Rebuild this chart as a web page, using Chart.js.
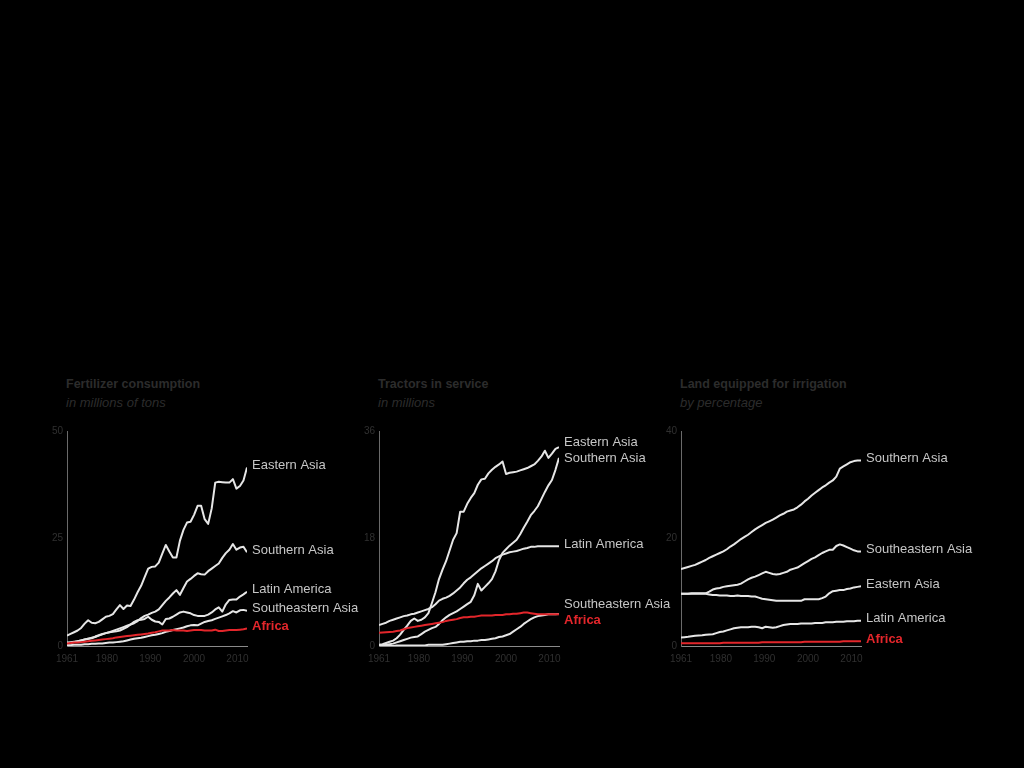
<!DOCTYPE html>
<html>
<head>
<meta charset="utf-8">
<title>Agricultural inputs by region</title>
<script src="https://cdn.jsdelivr.net/npm/chart.js@4.4.1/dist/chart.umd.min.js"></script>
<style>
  html, body { margin: 0; padding: 0; background: #000; }
  body { width: 1024px; height: 768px; position: relative; overflow: hidden; font-family: 'Liberation Sans', Arial, Helvetica, sans-serif; }
  .ttl { position: absolute; color: #2c2c2c; font-size: 13px; line-height: 15px; white-space: nowrap; }
  .ttl b { display: block; font-weight: bold; font-size: 12.5px; }
  .ttl i { display: block; margin-top: 3px; font-style: italic; }
  canvas { position: absolute; }
</style>
</head>
<body>
<div class="ttl" style="left:66px; top:377px;"><b>Fertilizer consumption</b><i>in millions of tons</i></div>
<div class="ttl" style="left:378px; top:377px;"><b>Tractors in service</b><i>in millions</i></div>
<div class="ttl" style="left:680px; top:377px;"><b>Land equipped for irrigation</b><i>by percentage</i></div>

<canvas id="fertChart" width="340" height="250" style="left:30px; top:420px;"></canvas>
<canvas id="tractorChart" width="340" height="250" style="left:342px; top:420px;"></canvas>
<canvas id="irrigChart" width="340" height="250" style="left:644px; top:420px;"></canvas>

<script>
// years on the x axis
const years = [1961, 1962, 1963, 1964, 1965, 1966, 1967, 1968, 1969, 1970,
    1971, 1972, 1973, 1974, 1975, 1976, 1977, 1978, 1979, 1980,
    1981, 1982, 1983, 1984, 1985, 1986, 1987, 1988, 1989, 1990,
    1991, 1992, 1993, 1994, 1995, 1996, 1997, 1998, 1999, 2000,
    2001, 2002, 2003, 2004, 2005, 2006, 2007, 2008, 2009, 2010,
    2011, 2012];

// x tick labels and where they sit along the axis
const xTickLabels = ['1961', '1980', '1990', '2000', '2010'];
const xTickAt = [1961, 1972.3, 1984.6, 1997, 2009.3];

const regions = ['Africa', 'Eastern Asia', 'Southern Asia', 'Latin America', 'Southeastern Asia'];

// 1. Fertilizer consumption, millions of tons
const fertAfrica = [0.6, 0.7, 0.8, 0.8, 0.9, 1.0, 1.1, 1.2, 1.3, 1.4,
    1.5, 1.6, 1.7, 1.8, 2.0, 2.1, 2.2, 2.3, 2.4, 2.5,
    2.6, 2.7, 2.8, 2.9, 3.1, 3.2, 3.4, 3.6, 3.6, 3.6,
    3.7, 3.6, 3.6, 3.6, 3.5, 3.6, 3.7, 3.7, 3.7, 3.6,
    3.6, 3.6, 3.8, 3.5, 3.5, 3.6, 3.7, 3.7, 3.7, 3.8,
    3.9, 4.1];
const fertEastern = [2.4, 2.8, 3.2, 3.6, 4.2, 5.2, 6.0, 5.4, 5.3, 5.6,
    6.2, 6.8, 7.0, 7.4, 8.5, 9.5, 8.6, 9.4, 9.3, 10.8,
    12.5, 14.0, 16.0, 18.0, 18.4, 18.5, 19.4, 21.5, 23.5, 22.0,
    20.6, 20.6, 24.5, 27.0, 28.7, 28.9, 30.5, 32.6, 32.6, 29.5,
    28.4, 32.0, 38.0, 38.2, 38.1, 38.0, 38.0, 38.8, 36.6, 37.2,
    38.5, 41.5];
const fertSouthern = [0.5, 0.7, 0.9, 1.1, 1.3, 1.5, 1.7, 1.8, 2.2, 2.5,
    2.8, 3.0, 3.2, 3.5, 3.8, 4.1, 4.4, 4.7, 5.0, 5.3,
    5.8, 6.5, 7.0, 7.3, 7.7, 8.0, 8.5, 9.5, 10.5, 11.3,
    12.2, 13.0, 11.9, 13.5, 15.0, 15.6, 16.3, 16.9, 16.7, 16.6,
    17.4, 18.0, 18.6, 19.2, 20.5, 21.6, 22.4, 23.7, 22.4, 22.9,
    23.1, 21.8];
const fertLatin = [0.8, 0.9, 1.0, 1.1, 1.3, 1.5, 1.7, 1.9, 2.1, 2.4,
    2.7, 3.0, 3.2, 3.3, 3.4, 3.6, 4.0, 4.4, 5.0, 5.6,
    6.0, 6.1, 6.3, 6.8, 6.1, 5.7, 5.6, 5.0, 6.3, 6.4,
    6.8, 7.3, 7.8, 8.0, 7.8, 7.6, 7.2, 7.0, 7.0, 7.0,
    7.3, 7.8, 8.5, 9.0, 8.0, 9.7, 10.7, 10.8, 10.8, 11.5,
    12.0, 12.6];
const fertSoutheastern = [0.2, 0.2, 0.3, 0.3, 0.3, 0.4, 0.4, 0.5, 0.5, 0.6,
    0.6, 0.7, 0.8, 0.8, 0.9, 1.0, 1.1, 1.3, 1.5, 1.7,
    1.8, 1.9, 2.1, 2.3, 2.5, 2.6, 2.8, 3.0, 3.3, 3.5,
    3.7, 3.9, 4.1, 4.3, 4.6, 4.8, 4.9, 4.8, 5.2, 5.6,
    5.8, 6.0, 6.3, 6.6, 6.9, 7.2, 7.6, 8.1, 7.8, 8.3,
    8.4, 8.2];

// 2. Tractors in service, millions
const tracAfrica = [2.2, 2.25, 2.3, 2.35, 2.4, 2.5, 2.6, 2.8, 3.0, 3.1,
    3.2, 3.3, 3.4, 3.5, 3.6, 3.7, 3.8, 3.9, 4.0, 4.2,
    4.3, 4.4, 4.5, 4.7, 4.8, 4.8, 4.9, 4.9, 5.0, 5.1,
    5.1, 5.1, 5.1, 5.2, 5.2, 5.2, 5.3, 5.3, 5.4, 5.4,
    5.5, 5.6, 5.6, 5.5, 5.4, 5.3, 5.3, 5.3, 5.3, 5.3,
    5.3, 5.3];
const tracEastern = [0.2, 0.3, 0.5, 0.7, 0.9, 1.3, 1.9, 2.7, 3.4, 4.2,
    4.6, 4.2, 4.4, 4.8, 5.5, 7.2, 9.0, 11.2, 12.8, 14.2,
    16.0, 17.8, 18.9, 22.5, 22.5, 23.8, 24.8, 25.6, 27.0, 27.9,
    28.0, 28.9, 29.5, 30.0, 30.4, 30.9, 28.8, 29.0, 29.1, 29.2,
    29.4, 29.6, 29.8, 30.1, 30.4, 31.0, 31.7, 32.7, 31.5, 32.2,
    33.0, 33.3];
const tracSouthern = [0.0, 0.1, 0.2, 0.3, 0.4, 0.6, 0.8, 1.0, 1.2, 1.4,
    1.5, 1.6, 2.0, 2.4, 2.7, 3.0, 3.2, 3.7, 4.3, 4.8,
    5.2, 5.5, 5.8, 6.2, 6.6, 7.0, 7.4, 8.5, 10.4, 9.3,
    9.9, 10.5, 11.2, 12.5, 14.4, 15.6, 16.2, 16.8, 17.3, 17.8,
    18.7, 19.8, 20.8, 21.9, 22.6, 23.4, 24.6, 25.8, 26.9, 27.8,
    29.5, 31.5];
const tracLatin = [3.5, 3.7, 3.9, 4.2, 4.4, 4.6, 4.8, 5.0, 5.1, 5.3,
    5.4, 5.6, 5.8, 6.0, 6.2, 6.5, 7.0, 7.6, 7.9, 8.1,
    8.4, 8.8, 9.3, 9.8, 10.5, 11.1, 11.5, 12.0, 12.5, 13.0,
    13.4, 13.8, 14.2, 14.7, 15.0, 15.3, 15.5, 15.7, 15.8, 15.9,
    16.1, 16.3, 16.4, 16.6, 16.6, 16.7, 16.7, 16.7, 16.7, 16.7,
    16.7, 16.7];
const tracSoutheastern = [0.0, 0.0, 0.0, 0.0, 0.0, 0.1, 0.1, 0.1, 0.1, 0.1,
    0.1, 0.1, 0.1, 0.1, 0.2, 0.2, 0.2, 0.2, 0.2, 0.3,
    0.4, 0.5, 0.6, 0.7, 0.7, 0.8, 0.8, 0.9, 0.9, 1.0,
    1.0, 1.1, 1.2, 1.3, 1.5, 1.6, 1.8, 2.0, 2.4, 2.8,
    3.2, 3.7, 4.1, 4.5, 4.8, 5.0, 5.1, 5.2, 5.3, 5.3,
    5.3, 5.35];

// 3. Land equipped for irrigation, percent
const irrAfrica = [0.5, 0.5, 0.5, 0.5, 0.5, 0.5, 0.5, 0.5, 0.5, 0.5,
    0.5, 0.5, 0.6, 0.6, 0.6, 0.6, 0.6, 0.6, 0.6, 0.6,
    0.6, 0.6, 0.6, 0.7, 0.7, 0.7, 0.7, 0.7, 0.7, 0.7,
    0.7, 0.7, 0.7, 0.7, 0.7, 0.8, 0.8, 0.8, 0.8, 0.8,
    0.8, 0.8, 0.8, 0.8, 0.8, 0.8, 0.9, 0.9, 0.9, 0.9,
    0.9, 0.9];
const irrEastern = [9.7, 9.7, 9.7, 9.7, 9.7, 9.7, 9.7, 9.7, 9.6, 9.5,
    9.5, 9.4, 9.4, 9.4, 9.3, 9.3, 9.4, 9.3, 9.3, 9.3,
    9.2, 9.2, 9.0, 8.8, 8.7, 8.6, 8.5, 8.4, 8.4, 8.4,
    8.4, 8.4, 8.4, 8.4, 8.4, 8.7, 8.7, 8.7, 8.7, 8.7,
    8.9, 9.2, 9.8, 10.2, 10.3, 10.4, 10.4, 10.6, 10.7, 10.9,
    11.0, 11.1];
const irrSouthern = [14.3, 14.5, 14.7, 14.9, 15.1, 15.4, 15.7, 16.0, 16.4, 16.7,
    17.0, 17.3, 17.6, 18.0, 18.5, 18.9, 19.4, 19.9, 20.3, 20.7,
    21.2, 21.7, 22.1, 22.5, 22.9, 23.2, 23.5, 23.9, 24.3, 24.6,
    25.0, 25.2, 25.4, 25.8, 26.3, 26.9, 27.4, 28.0, 28.5, 29.0,
    29.5, 29.9, 30.4, 30.8, 31.5, 33.0, 33.4, 33.8, 34.2, 34.4,
    34.5, 34.5];
const irrLatin = [1.6, 1.65, 1.7, 1.8, 1.9, 1.95, 2.0, 2.1, 2.15, 2.2,
    2.4, 2.6, 2.7, 2.9, 3.1, 3.3, 3.4, 3.5, 3.5, 3.5,
    3.6, 3.6, 3.5, 3.3, 3.6, 3.5, 3.4, 3.5, 3.7, 3.9,
    4.0, 4.1, 4.1, 4.1, 4.2, 4.2, 4.2, 4.2, 4.3, 4.3,
    4.3, 4.4, 4.4, 4.4, 4.5, 4.5, 4.5, 4.6, 4.6, 4.6,
    4.7, 4.7];
const irrSoutheastern = [9.7, 9.7, 9.7, 9.8, 9.8, 9.8, 9.8, 9.8, 10.1, 10.5,
    10.7, 10.8, 11.0, 11.1, 11.2, 11.3, 11.4, 11.6, 12.0, 12.4,
    12.7, 12.9, 13.2, 13.5, 13.8, 13.6, 13.4, 13.3, 13.4, 13.6,
    13.8, 14.2, 14.4, 14.6, 15.0, 15.4, 15.8, 16.2, 16.5, 16.9,
    17.3, 17.6, 17.9, 17.9, 18.6, 18.9, 18.7, 18.4, 18.1, 17.8,
    17.6, 17.6];

// look
const WHITE = '#e6e6e6';
const RED = '#e3262b';
const FONT = "'Liberation Sans', Arial, Helvetica, sans-serif";

Chart.defaults.font.family = FONT;
Chart.defaults.color = '#333';

// writes each region's name just right of where its line ends
const endLabels = {
    id: 'endLabels',
    afterDatasetsDraw(chart) {
        const ctx = chart.ctx;
        const items = [];
        chart.data.datasets.forEach(function(ds, i) {
            const meta = chart.getDatasetMeta(i);
            const last = meta.data[meta.data.length - 1];
            items.push({ text: ds.label, x: last.x + 5, y: last.y - 2, red: ds.label === 'Africa', idx: i });
        });
        items.sort(function(a, b) { return a.y - b.y || (a.red ? 1 : -1); });
        // spread out labels that would overlap
        const gap = 16;
        let groups = items.map(function(it) { return { list: [it], y: it.y }; });
        let moved = true;
        while (moved) {
            moved = false;
            for (let g = 0; g < groups.length - 1; g++) {
                const a = groups[g], b = groups[g + 1];
                const aBottom = a.y + (a.list.length - 1) * gap / 2;
                const bTop = b.y - (b.list.length - 1) * gap / 2;
                if (bTop - aBottom < gap) {
                    const list = a.list.concat(b.list);
                    const mean = list.reduce(function(s, it) { return s + it.y; }, 0) / list.length;
                    groups.splice(g, 2, { list: list, y: mean });
                    moved = true;
                    break;
                }
            }
        }
        ctx.save();
        ctx.textBaseline = 'middle';
        ctx.textAlign = 'left';
        groups.forEach(function(g) {
            g.list.forEach(function(it, k) {
                const y = g.y + (k - (g.list.length - 1) / 2) * gap;
                ctx.font = (it.red ? 'bold ' : '') + '13px ' + FONT;
                ctx.fillStyle = it.red ? RED : '#c6c6c6';
                ctx.fillText(it.text, it.x, y);
            });
        });
        ctx.restore();
    }
};

function makeChart(id, seriesList, yMax) {
    const datasets = regions.map(function(name, i) {
        const vals = seriesList[i];
        return {
            label: name,
            data: years.map(function(yr, j) { return { x: yr, y: vals[j] }; }),
            borderColor: name === 'Africa' ? RED : WHITE,
            borderWidth: 2,
            pointRadius: 0,
            tension: 0,
            fill: false,
            borderJoinStyle: 'round'
        };
    });
    return new Chart(document.getElementById(id), {
        type: 'line',
        data: { datasets: datasets },
        plugins: [endLabels],
        options: {
            responsive: false,
            animation: false,
            devicePixelRatio: 1,
            layout: { padding: { top: 11, right: 123, bottom: 4, left: 0 } },
            plugins: {
                legend: { display: false },
                tooltip: { enabled: false }
            },
            scales: {
                x: {
                    type: 'linear',
                    min: 1961,
                    max: 2012,
                    afterBuildTicks: function(scale) {
                        scale.ticks = xTickAt.map(function(v) { return { value: v }; });
                    },
                    afterFit: function(scale) { scale.height = 20; },
                    grid: { display: false, drawTicks: false },
                    border: { display: true, color: '#8a8a8a', width: 1 },
                    ticks: {
                        autoSkip: false,
                        maxRotation: 0,
                        padding: 7,
                        color: '#303030',
                        font: { size: 10 },
                        callback: function(v, i) { return xTickLabels[i]; }
                    }
                },
                y: {
                    min: 0,
                    max: yMax,
                    afterFit: function(scale) { scale.width = 37; },
                    grid: { display: false, drawTicks: false },
                    border: { display: true, color: '#6a6a6a', width: 1 },
                    ticks: {
                        stepSize: yMax / 2,
                        padding: 4,
                        color: '#303030',
                        font: { size: 10 }
                    }
                }
            }
        }
    });
}

const fertChart = makeChart('fertChart',
    [fertAfrica, fertEastern, fertSouthern, fertLatin, fertSoutheastern], 50);
const tractorChart = makeChart('tractorChart',
    [tracAfrica, tracEastern, tracSouthern, tracLatin, tracSoutheastern], 36);
const irrigChart = makeChart('irrigChart',
    [irrAfrica, irrEastern, irrSouthern, irrLatin, irrSoutheastern], 40);
</script>
</body>
</html>
